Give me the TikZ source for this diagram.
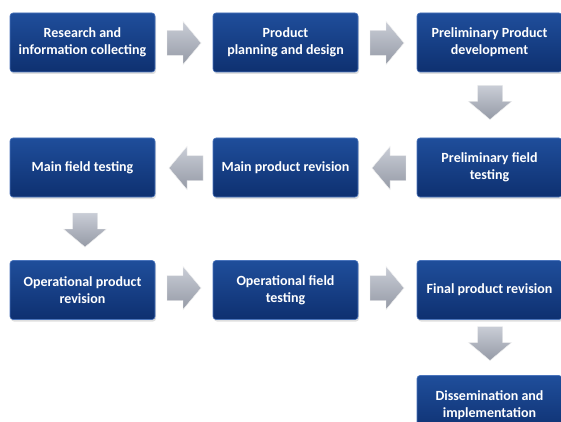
\documentclass[tikz,border=0pt]{standalone}
\usepackage{fontspec}
\setmainfont{Carlito}
\usetikzlibrary{shadows}
\definecolor{boxtop}{HTML}{1F4E9B}
\definecolor{boxbot}{HTML}{0E3070}
\definecolor{boxedge}{HTML}{4A74BC}
\definecolor{arrtop}{HTML}{C9CDD6}
\definecolor{arrbot}{HTML}{959AA6}
\tikzset{
  stepbox/.style={rectangle, rounded corners=3pt, minimum width=145pt, minimum height=59pt,
    top color=boxtop, bottom color=boxbot, draw=boxedge, line width=0.6pt,
    text=white, font=\bfseries\fontsize{14}{17}\selectfont, align=center, inner sep=2pt,
    drop shadow={opacity=0.25, shadow xshift=1pt, shadow yshift=-2pt}},
  arrowfill/.style={top color=arrtop, bottom color=arrbot, draw=white!88!gray, line width=0.4pt},
  flowarr/.pic={\path[arrowfill] (-17,-12.5) -- (-1,-12.5) -- (-1,-21.5) -- (17,0) -- (-1,21.5) -- (-1,12.5) -- (-17,12.5) -- cycle;}
}
\begin{document}
\begin{tikzpicture}[x=1pt,y=-1pt]
\useasboundingbox[fill=white] (0,0) rectangle (561,422);
% row 1
\node[stepbox] (b1) at (82.5,42.5) {Research and\\information collecting};
\node[stepbox] (b2) at (285.5,42.5) {Product\\planning and design};
\node[stepbox] (b3) at (489.5,42.5) {Preliminary Product\\development};
% row 2
\node[stepbox] (b6) at (82.5,167.5) {Main field testing};
\node[stepbox] (b5) at (285.5,167.5) {Main product revision};
\node[stepbox] (b4) at (489.5,167.5) {Preliminary field\\testing};
% row 3
\node[stepbox] (b7) at (82.5,290) {Operational product\\revision};
\node[stepbox] (b8) at (285.5,290) {Operational field\\testing};
\node[stepbox] (b9) at (489.5,290) {Final product revision};
% row 4
\node[stepbox] (b10) at (489.5,405) {Dissemination and\\implementation};
% arrows
\pic at (184,43) {flowarr};
\pic at (387,43) {flowarr};
\pic[rotate=-90] at (490,102.5) {flowarr};
\pic[rotate=180] at (389,168) {flowarr};
\pic[rotate=180] at (186,168) {flowarr};
\pic[rotate=-90] at (85,230) {flowarr};
\pic at (184,288) {flowarr};
\pic at (387,288) {flowarr};
\pic[rotate=-90] at (490,343.5) {flowarr};
\end{tikzpicture}
\end{document}
